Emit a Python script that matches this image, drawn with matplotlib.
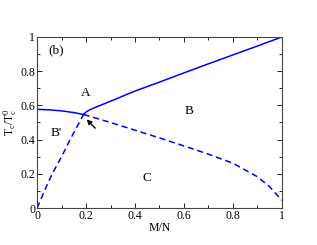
import matplotlib
matplotlib.use("Agg")
import matplotlib.pyplot as plt
from matplotlib.ticker import MultipleLocator

plt.rcParams['font.family'] = ['Liberation Serif', 'DejaVu Serif']
plt.rcParams['mathtext.fontset'] = 'stix'

# phase boundaries
x_solid_left = [0, 0.05, 0.1, 0.15, 0.19]
y_solid_left = [0.577, 0.574, 0.568, 0.558, 0.547]

x_solid_right = [0.19, 0.2, 0.215, 0.237, 0.27, 0.318, 0.4, 0.5, 0.6, 0.7, 0.8, 0.9, 1.0]
y_solid_right = [0.547, 0.561, 0.574, 0.588, 0.607, 0.635, 0.684, 0.736, 0.79, 0.843, 0.895, 0.947, 1.0]

x_dash_left = [0, 0.03, 0.06, 0.1, 0.135, 0.19]
y_dash_left = [0, 0.1, 0.195, 0.3, 0.4, 0.547]

x_dash_right = [0.19, 0.3, 0.4, 0.5, 0.6, 0.7, 0.8, 0.9, 0.95, 1.0]
y_dash_right = [0.547, 0.5, 0.455, 0.41, 0.363, 0.315, 0.262, 0.183, 0.125, 0.045]

blue = '#0000ff'

fig = plt.figure(figsize=(3.17, 2.45), dpi=100)
ax = fig.add_axes([0.117, 0.151, 0.772, 0.698])

ax.plot(x_solid_left, y_solid_left, color=blue, lw=1.1)
ax.plot(x_solid_right, y_solid_right, color=blue, lw=1.1)
ax.plot(x_dash_left, y_dash_left, color=blue, lw=1.1, ls=(0, (4, 2.5)))
ax.plot(x_dash_right, y_dash_right, color=blue, lw=1.1, ls=(0, (4, 2.5)))

ax.annotate('', xy=(0.195, 0.53), xytext=(0.245, 0.455),
            arrowprops=dict(arrowstyle='-|>', color='black', lw=1.0,
                            mutation_scale=7))

ax.text(0.045, 0.92, '(b)', fontsize=9.5, va='center')
ax.text(0.2, 0.67, 'A', fontsize=9.5, ha='center', va='center')
ax.text(0.62, 0.565, 'B', fontsize=9.5, ha='center', va='center')
ax.text(0.08, 0.44, "B'", fontsize=9.5, ha='center', va='center')
ax.text(0.45, 0.175, 'C', fontsize=9.5, ha='center', va='center')

ax.set_xlim(0, 1)
ax.set_ylim(0, 1)
ax.xaxis.set_minor_locator(MultipleLocator(0.1))
ax.yaxis.set_minor_locator(MultipleLocator(0.1))
ax.set_xticks([0, 0.2, 0.4, 0.6, 0.8, 1.0])
ax.set_xticklabels(['0', '0.2', '0.4', '0.6', '0.8', '1'])
ax.set_yticks([0, 0.2, 0.4, 0.6, 0.8, 1.0])
ax.set_yticklabels(['0', '0.2', '0.4', '0.6', '0.8', '1'])
ax.tick_params(which='both', direction='in', top=True, right=True,
               labelsize=8.5, pad=1.5, width=0.6)
ax.tick_params(which='major', length=3.5)
ax.tick_params(which='minor', length=2)
for s in ax.spines.values():
    s.set_linewidth(0.8)
    s.set_color('#444444')

ax.set_xlabel('M/N', fontsize=8.5, labelpad=0)
ax.set_ylabel(r'$\mathregular{T_c/T_c^0}$', fontsize=8.5, labelpad=1)

fig.savefig('out.png', dpi=100)
